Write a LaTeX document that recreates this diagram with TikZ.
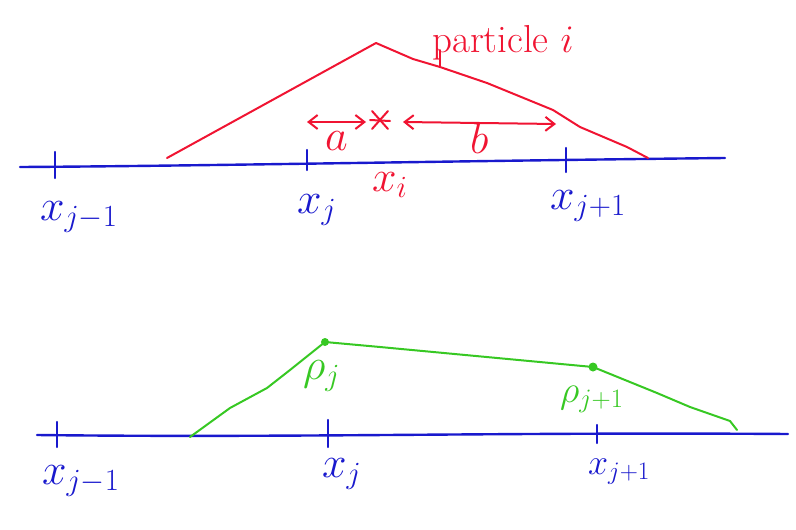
\RequirePackage{fix-cm}
\documentclass[tikz,border=0pt]{standalone}
\usepackage{amsmath}
\usetikzlibrary{arrows.meta}
\definecolor{penblue}{RGB}{25,25,205}
\definecolor{penred}{RGB}{240,20,50}
\definecolor{pengreen}{RGB}{55,200,35}

\begin{document}
\begin{tikzpicture}[x=1pt,y=-1pt]
\tikzstyle{every node}+=[inner sep=0pt]
\tikzstyle{axis}=[penblue, line width=2.4pt, line cap=round]
\tikzstyle{redline}=[penred, line width=2pt, line cap=round, line join=round]
\tikzstyle{greenline}=[pengreen, line width=2pt, line cap=round, line join=round]
\tikzstyle{bluelabel}=[text=penblue, font=\fontsize{44}{46}\selectfont]
\tikzstyle{redlabel}=[text=penred, font=\fontsize{44}{46}\selectfont]
\tikzstyle{greenlabel}=[text=pengreen, font=\fontsize{44}{46}\selectfont]
\tikzstyle{span}=[redline, {Straight Barb[length=9pt,width=14pt]}-{Straight Barb[length=9pt,width=14pt]}]
\useasboundingbox (0,0) rectangle (796,530);

% top: one particle
\coordinate (tl) at (20,167);
\coordinate (tr) at (725,158);
\draw [axis] (tl) .. controls (200,166) and (450,161) .. (tr);
\draw [axis] (55,152) -- (55,178);
\draw [axis] (307,150) -- (307,170);
\draw [axis] (566,148) -- (566,172);
\node [bluelabel, anchor=base west] (xjm) at (40,220) {$x_{j-1}$};
\node [bluelabel, anchor=base west] (xj) at (297,213) {$x_j$};
\node [bluelabel, anchor=base west] (xjp) at (550,209) {$x_{j+1}$};
\node [redlabel, anchor=base west] (xi) at (372,191) {$x_i$};

\coordinate (pl) at (167,158);
\coordinate (pk) at (376,43);
\coordinate (pm) at (440,67);
\coordinate (pr) at (648,158);
\draw [redline] (pl) -- (pk) -- (413,59) -- (pm) -- (487,83) -- (553,110) -- (580,127) -- (627,147) -- (pr);
\node [text=penred, font=\fontsize{39}{40}\selectfont, anchor=base west] (part) at (432,52) {particle $i$};
\draw [redline] (pm) -- (440,50);

\coordinate (star) at (380,120);
\draw [redline] ([shift={(-10,0)}]star) -- ([shift={(10,1)}]star);
\draw [redline] ([shift={(-8,-9)}]star) -- ([shift={(8,9)}]star);
\draw [redline] ([shift={(8,-9)}]star) -- ([shift={(-8,9)}]star);
\coordinate (a1) at (307,122);
\coordinate (a2) at (366,122);
\coordinate (b1) at (403,122);
\coordinate (b2) at (556,124);
\draw [span] (a1) -- (a2);
\draw [span] (b1) -- (b2);
\node [redlabel, anchor=base west] (a) at (325,150) {$a$};
\node [redlabel, anchor=base west] (b) at (470,153) {$b$};

% bottom: density on the grid
\coordinate (bl) at (37,435);
\coordinate (br) at (788,434);
\draw [axis] (bl) .. controls (300,438) and (500,432) .. (br);
\draw [axis] (57,422) -- (57,447);
\draw [axis] (328,420) -- (328,447);
\draw [axis] (597,425) -- (597,443);
\node [bluelabel, anchor=base west] (yjm) at (42,484) {$x_{j-1}$};
\node [bluelabel, anchor=base west] (yj) at (322,477) {$x_j$};
\node [bluelabel, font=\fontsize{36}{38}\selectfont, anchor=base west] (yjp) at (588,474) {$x_{j+1}$};

\coordinate (g0) at (190,437);
\coordinate (rj) at (325,342);
\coordinate (rjp) at (593,367);
\coordinate (g3) at (737,430);
\draw [greenline] (g0) -- (230,408) -- (267,388) -- (290,370) -- (rj) -- (380,347) -- (rjp) -- (657,393) -- (690,407) -- (730,421) -- (g3);
\fill [pengreen] (rj) circle (4);
\fill [pengreen] (rjp) circle (4.5);
\node [greenlabel, anchor=base west] (rhoj) at (303,379) {$\rho_j$};
\node [greenlabel, font=\fontsize{38}{40}\selectfont, anchor=base west] (rhojp) at (560,402) {$\rho_{j+1}$};
\end{tikzpicture}
\end{document}
